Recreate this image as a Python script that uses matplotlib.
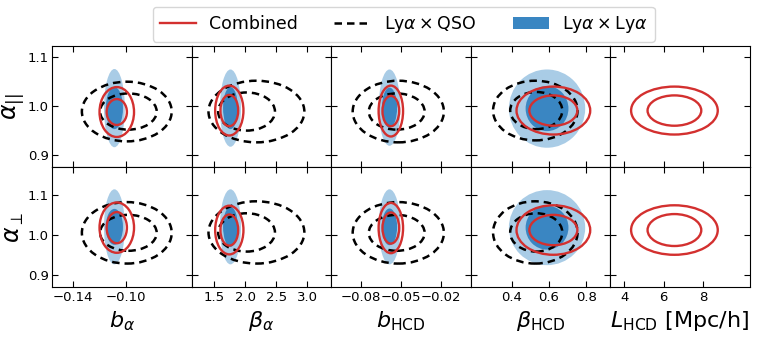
import matplotlib.pyplot as plt
from matplotlib.patches import Ellipse, Patch
from matplotlib.lines import Line2D

# parameters on the x axis of each column
xlabels = ["$b_\\alpha$", "$\\beta_\\alpha$", "$b_{\\rm HCD}$", "$\\beta_{\\rm HCD}$", "$L_{\\rm HCD}$ [Mpc/h]"]
xlims = [(-0.156, -0.050), (1.13, 3.39), (-0.1025, 0.0025), (0.18, 0.93), (3.28, 10.4)]
xticks = [[-0.14, -0.10], [1.5, 2.0, 2.5, 3.0], [-0.08, -0.05, -0.02], [0.4, 0.6, 0.8], [4, 6, 8]]
xticklabels = [["\u22120.14", "\u22120.10"], ["1.5", "2.0", "2.5", "3.0"],
               ["\u22120.08", "\u22120.05", "\u22120.02"], ["0.4", "0.6", "0.8"], ["4", "6", "8"]]
ylabels = ["$\\alpha_{||}$", "$\\alpha_\\perp$"]
ylims = [(0.8755, 1.122), (0.870, 1.172)]
yticks = [0.9, 1.0, 1.1]

# Lya x Lya (filled blue), ellipse centres / half sizes
auto_x = [-0.1086, 1.76, -0.0586, 0.590]
auto_w95 = [0.0079, 0.17, 0.0081, 0.205]
auto_w68 = [0.0065, 0.12, 0.0057, 0.115]
auto_ypar = [0.995, 0.995, 0.996, 0.994]
auto_hpar95 = [0.080, 0.079, 0.078, 0.080]
auto_hpar68 = [0.043, 0.043, 0.041, 0.046]
auto_yperp = [1.021, 1.021, 1.021, 1.019]
auto_hperp95 = [0.094, 0.094, 0.094, 0.094]
auto_hperp68 = [0.045, 0.050, 0.046, 0.055]

# Combined (red)
comb_x = [-0.1068, 1.741, -0.0576, 0.624, 6.55]
comb_w95 = [0.0131, 0.229, 0.0092, 0.198, 2.21]
comb_w68 = [0.0077, 0.144, 0.0063, 0.129, 1.37]
comb_ypar = [0.987, 0.990, 0.989, 0.990, 0.990]
comb_hpar95 = [0.051, 0.051, 0.052, 0.049, 0.049]
comb_hpar68 = [0.0265, 0.032, 0.031, 0.031, 0.031]
comb_yperp = [1.019, 1.013, 1.018, 1.013, 1.013]
comb_hperp95 = [0.063, 0.061, 0.063, 0.062, 0.062]
comb_hperp68 = [0.039, 0.039, 0.039, 0.038, 0.040]

# Lya x QSO (black dashed)
qso_x95 = [-0.0992, 2.18, -0.052, 0.527]
qso_x68 = [-0.098, 2.02, -0.0532, 0.532]
qso_w95 = [0.0341, 0.776, 0.0343, 0.227]
qso_w68 = [0.0215, 0.46, 0.021, 0.140]
qso_ypar = [0.988, 0.988, 0.988, 0.990]
qso_hpar95 = [0.061, 0.063, 0.063, 0.061]
qso_hpar68 = [0.037, 0.039, 0.037, 0.038]
qso_yperp = [1.006, 1.007, 1.006, 1.007]
qso_hperp95 = [0.077, 0.078, 0.077, 0.078]
qso_hperp68 = [0.045, 0.048, 0.045, 0.048]

red = "#d3302f"
light_blue = "#a9cce6"
dark_blue = "#3a86c2"
dash = (0, (3, 2))

fig, axes = plt.subplots(2, 5, figsize=(7.59, 3.37), dpi=100)
fig.subplots_adjust(left=0.0685, right=0.988, top=0.8635, bottom=0.148, wspace=0, hspace=0)

for row in range(2):
    for col in range(5):
        ax = axes[row, col]
        if row == 0:
            ya, ha95, ha68 = auto_ypar, auto_hpar95, auto_hpar68
            yc, hc95, hc68 = comb_ypar, comb_hpar95, comb_hpar68
            yq, hq95, hq68 = qso_ypar, qso_hpar95, qso_hpar68
        else:
            ya, ha95, ha68 = auto_yperp, auto_hperp95, auto_hperp68
            yc, hc95, hc68 = comb_yperp, comb_hperp95, comb_hperp68
            yq, hq95, hq68 = qso_yperp, qso_hperp95, qso_hperp68

        if col < 4:
            ax.add_patch(Ellipse((auto_x[col], ya[col]), 2 * auto_w95[col], 2 * ha95[col],
                                 facecolor=light_blue, edgecolor="none"))
            ax.add_patch(Ellipse((auto_x[col], ya[col]), 2 * auto_w68[col], 2 * ha68[col],
                                 facecolor=dark_blue, edgecolor="none"))
            ax.add_patch(Ellipse((qso_x95[col], yq[col]), 2 * qso_w95[col], 2 * hq95[col],
                                 facecolor="none", edgecolor="black", lw=1.8, ls=dash))
            ax.add_patch(Ellipse((qso_x68[col], yq[col]), 2 * qso_w68[col], 2 * hq68[col],
                                 facecolor="none", edgecolor="black", lw=1.8, ls=dash))
        ax.add_patch(Ellipse((comb_x[col], yc[col]), 2 * comb_w95[col], 2 * hc95[col],
                             facecolor="none", edgecolor=red, lw=1.7))
        ax.add_patch(Ellipse((comb_x[col], yc[col]), 2 * comb_w68[col], 2 * hc68[col],
                             facecolor="none", edgecolor=red, lw=1.7))

        ax.set_xlim(xlims[col])
        ax.set_ylim(ylims[row])
        ax.set_xticks(xticks[col])
        ax.set_yticks(yticks)
        ax.tick_params(direction="in", top=True, right=True, labelsize=9.5, length=4, pad=2.5)
        if row == 1:
            ax.set_xticklabels(xticklabels[col])
            ax.set_xlabel(xlabels[col], fontsize=16)
        else:
            ax.set_xticklabels([])
        if col == 0:
            ax.set_ylabel(ylabels[row], fontsize=17, labelpad=1)
        else:
            ax.set_yticklabels([])

handles = [Line2D([], [], color=red, lw=1.7),
           Line2D([], [], color="black", lw=1.8, ls=dash),
           Patch(facecolor=dark_blue, edgecolor="none")]
fig.legend(handles, ["Combined", "Ly$\\alpha\\times$QSO", "Ly$\\alpha\\times$Ly$\\alpha$"],
           loc="upper center", bbox_to_anchor=(0.532, 1.005), ncol=3, fontsize=12.5,
           columnspacing=2.1, handlelength=2.1, handletextpad=0.75)

fig.savefig("out.png", dpi=100)
